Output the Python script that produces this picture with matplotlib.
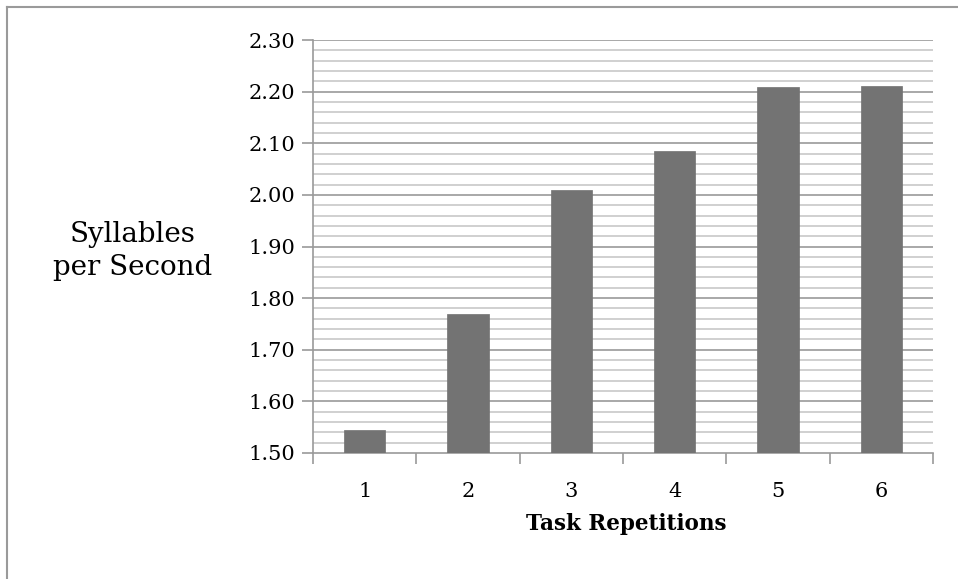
import matplotlib
matplotlib.use("Agg")
import matplotlib.pyplot as plt
from matplotlib.lines import Line2D
import numpy as np

categories = ["1", "2", "3", "4", "5", "6"]
values = [1.545, 1.769, 2.010, 2.085, 2.208, 2.211]
ytick_labels = ["1.50", "1.60", "1.70", "1.80", "1.90", "2.00", "2.10", "2.20", "2.30"]
xlabel = "Task Repetitions"
ylabel = "Syllables\nper Second"

plt.rcParams['font.family'] = ['DejaVu Serif']

W, H = 958, 579
fig = plt.figure(figsize=(W / 100, H / 100), dpi=100)
ax = fig.add_axes([313 / W, 1 - 453 / H, 620 / W, 413 / H])

x = np.arange(len(categories))
yt = np.array([float(t) for t in ytick_labels])
base = yt[0]
ax.bar(x, np.array(values) - base, bottom=base, width=0.4, color="#737373", zorder=3,
       edgecolor="#737373", linewidth=0.5)

ax.set_xlim(-0.5, len(categories) - 0.5)
ax.set_ylim(yt[0], yt[-1])

# gridlines
minor = np.round(np.arange(yt[0], yt[-1] + 1e-9, 0.02), 2)
for v in minor:
    if not np.any(np.isclose(v, yt)):
        ax.axhline(v, color="#c8c8c8", linewidth=1.2, zorder=1)
for v in yt[1:]:
    ax.axhline(v, color="#9a9a9a", linewidth=1.2, zorder=1)

ax.set_yticks(yt)
ax.set_yticklabels(ytick_labels, fontsize=15)
ax.set_xticks(x)
ax.set_xticklabels(categories, fontsize=15)
ax.set_xticks(np.arange(-0.5, len(categories)), minor=True)
ax.tick_params(axis="x", which="major", length=0, pad=21)
ax.tick_params(axis="x", which="minor", length=8, width=1.2, color="#9a9a9a", direction="out")
ax.tick_params(axis="y", which="major", length=8, width=1.2, color="#9a9a9a", direction="out", pad=5)

for s in ["top", "right"]:
    ax.spines[s].set_visible(False)
for s in ["left", "bottom"]:
    ax.spines[s].set_color("#9a9a9a")
    ax.spines[s].set_linewidth(1.2)

fig.text(626 / W, 1 - 524 / H, xlabel, fontsize=15.5, fontweight="bold",
         ha="center", va="center")
fig.text(133 / W, 1 - 251 / H, ylabel, fontsize=20, ha="center", va="center",
         multialignment="center", linespacing=1.3)

# outer frame (partially visible)
fig.add_artist(Line2D([7 / W, 7 / W], [0, 1 - 7 / H], transform=fig.transFigure,
                      color="#9a9a9a", linewidth=1.5))
fig.add_artist(Line2D([7 / W, 1], [1 - 7 / H, 1 - 7 / H], transform=fig.transFigure,
                      color="#9a9a9a", linewidth=1.5))

fig.savefig("out.png", dpi=100)
